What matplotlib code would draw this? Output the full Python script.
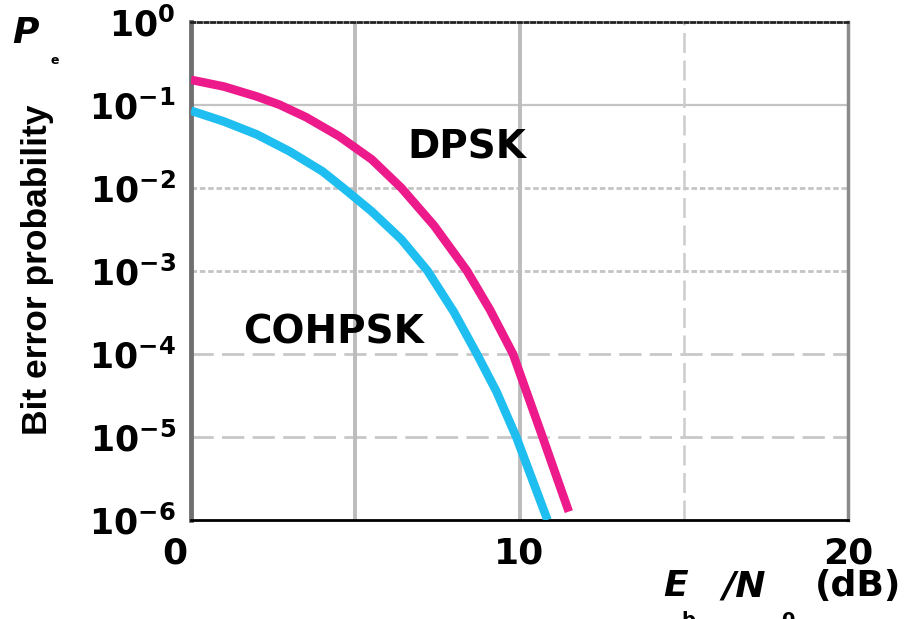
import matplotlib
matplotlib.use('Agg')
import matplotlib.pyplot as plt
from matplotlib.transforms import ScaledTranslation

# Eb/N0 (dB) vs bit error probability
eb_n0_dpsk = [0.0, 1.0, 2.0, 2.7, 3.5, 4.5, 5.5, 6.4, 7.4, 8.4, 9.1, 9.8, 10.7, 11.5]
ber_dpsk = [2.0e-1, 1.66e-1, 1.26e-1, 1.0e-1, 7.1e-2, 4.2e-2, 2.2e-2, 1.0e-2,
            3.5e-3, 1.0e-3, 3.4e-4, 1.0e-4, 1.0e-5, 1.26e-6]

eb_n0_cohpsk = [0.0, 1.0, 2.0, 3.0, 4.0, 4.63, 5.5, 6.4, 7.2, 8.0, 8.7, 9.3, 9.9, 10.85]
ber_cohpsk = [8.5e-2, 6.3e-2, 4.4e-2, 2.75e-2, 1.58e-2, 1.0e-2, 5.2e-3, 2.4e-3,
              1.0e-3, 3.2e-4, 1.0e-4, 3.5e-5, 1.0e-5, 1.0e-6]

x_ticks = [0, 10, 20]
y_ticks = [1e0, 1e-1, 1e-2, 1e-3, 1e-4, 1e-5, 1e-6]
y_ticklabels = ['$\\mathbf{10^{0}}$', '$\\mathbf{10^{-1}}$', '$\\mathbf{10^{-2}}$',
                '$\\mathbf{10^{-3}}$', '$\\mathbf{10^{-4}}$', '$\\mathbf{10^{-5}}$',
                '$\\mathbf{10^{-6}}$']

plt.rcParams['font.family'] = ['DejaVu Sans']
plt.rcParams['mathtext.fontset'] = 'dejavusans'

fig = plt.figure(figsize=(9.11, 6.19), dpi=100)
ax = fig.add_axes([0.2097, 0.160, 0.7212, 0.8048])

ax.plot(eb_n0_dpsk, ber_dpsk, color='#EC1A8A', lw=6.2, solid_capstyle='butt',
        solid_joinstyle='round', zorder=3)
ax.plot(eb_n0_cohpsk, ber_cohpsk, color='#1EBFF0', lw=6.2, solid_capstyle='butt',
        solid_joinstyle='round', zorder=3)

ax.set_yscale('log')
ax.set_xlim(0, 20)
ax.set_ylim(1e-6, 1e0)
ax.set_xticks(x_ticks)
ax.set_xticklabels([str(v) for v in x_ticks], fontsize=26, fontweight='bold')
ax.set_yticks(y_ticks)
ax.set_yticklabels(y_ticklabels, fontsize=25)
ax.minorticks_off()
ax.tick_params(axis='both', length=0)
ax.tick_params(axis='y', pad=11)
ax.tick_params(axis='x', pad=12)

# the "0" sits a bit left of the axis corner
lab0 = ax.get_xticklabels()[0]
lab0.set_transform(lab0.get_transform() + ScaledTranslation(-0.16, 0, fig.dpi_scale_trans))

# grid: mixed line styles as in the original printout
ax.axhline(1e-1, color='#c4c4c4', lw=1.6, zorder=1)
for yv in [1e-2, 1e-3]:
    ax.axhline(yv, color='#c4c4c4', lw=2, dashes=(2, 1), zorder=1)
for yv in [1e-4, 1e-5]:
    ax.axhline(yv, color='#c8c8c8', lw=2, dashes=(8, 3), zorder=1)
for xv in [5, 10]:
    ax.axvline(xv, color='#bcbcbc', lw=2.8, zorder=1)
ax.axvline(15, color='#cccccc', lw=1.8, dashes=(8, 3), zorder=1)

# frame
ax.spines['left'].set_color('#707070')
ax.spines['left'].set_linewidth(3.5)
ax.spines['right'].set_color('#8a8a8a')
ax.spines['right'].set_linewidth(2.5)
ax.spines['bottom'].set_color('black')
ax.spines['bottom'].set_linewidth(2)
ax.spines['top'].set_color('#222222')
ax.spines['top'].set_linewidth(2)
ax.spines['top'].set_linestyle((0, (1.2, 1.2)))

ax.text(8.4, 0.031, 'DPSK', fontsize=28, fontweight='bold', ha='center', va='center')
ax.text(4.35, 1.8e-4, 'COHPSK', fontsize=28, fontweight='bold', ha='center', va='center')

# axis titles
fig.text(38 / 911, 1 - 270 / 619, 'Bit error probability', rotation=90,
         family=['Liberation Sans', 'DejaVu Sans'], fontsize=25.5,
         fontweight='bold', ha='center', va='center')
fig.text(25 / 911, 1 - 33 / 619, 'P', fontsize=26, fontweight='bold',
         style='italic', ha='center', va='center')
fig.text(55 / 911, 1 - 60 / 619, 'e', fontsize=9, fontweight='bold',
         ha='center', va='center')

fig.text(676 / 911, 1 - 586 / 619, 'E', fontsize=26, fontweight='bold',
         style='italic', ha='center', va='center')
fig.text(744 / 911, 1 - 586 / 619, '/N', fontsize=26, fontweight='bold',
         style='italic', ha='center', va='center')
fig.text(858 / 911, 1 - 586 / 619, '(dB)', fontsize=26, fontweight='bold',
         ha='center', va='center')
fig.text(688 / 911, 1 - 621 / 619, 'b', fontsize=14, fontweight='bold',
         ha='center', va='center')
fig.text(788 / 911, 1 - 621 / 619, '0', fontsize=14, fontweight='bold',
         ha='center', va='center')

fig.savefig('out.png', dpi=100)
